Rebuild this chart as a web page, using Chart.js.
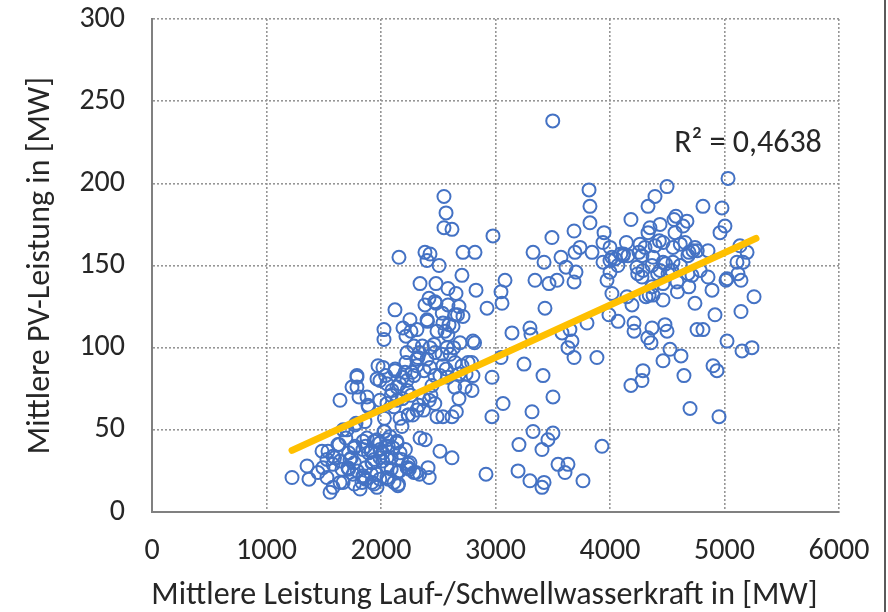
<!DOCTYPE html>
<html lang="de">
<head>
<meta charset="UTF-8">
<title>PV-Leistung vs. Wasserkraft</title>
<script src="https://cdn.jsdelivr.net/npm/chart.js@4.4.1/dist/chart.umd.min.js"></script>
<style>
 html,body{margin:0;padding:0;background:#fff;}
 #wrap{position:relative;width:888px;height:612px;}
 #rand{position:absolute;left:884px;top:0;width:2px;height:612px;background:#5a5a5a;}
</style>
</head>
<body>
<div id="wrap">
  <canvas id="chart" width="888" height="612"></canvas>
  <div id="rand"></div>
</div>
<script>
// Mittlere Leistung Lauf-/Schwellwasserkraft [MW] (x) und Mittlere PV-Leistung [MW] (y)
var wasserkraft = [
  3500,5031,4498,3817,2550,4393,3825,4332,4812,4978,
  2568,4183,3825,2550,2620,5004,4576,4559,4672,4638,
  4437,4349,3686,4961,2978,3493,3948,4568,4655,4463,
  3939,4393,4306,4000,3738,4262,4856,4742,4690,3843,
  3694,3328,2821,2716,2384,2428,2402,2157,4114,4157,
  4253,4332,4550,4725,4681,5197,5135,3572,4017,4279,
  4376,3424,2507,4550,4463,5109,5162,4367,3939,4000,
  3616,4236,4288,4437,4507,3703,4000,5118,4681,4716,
  4279,4856,5022,5013,5144,4585,4463,3686,3974,3537,
  3345,3467,3083,2707,2480,2341,2585,2655,2830,3048,
  4891,4017,4376,4314,4148,4463,4742,5258,3057,2926,
  3432,4192,2419,2384,2480,2585,2681,2646,2716,2122,
  5144,4917,3991,4070,4210,3799,4367,4480,4760,4812,
  4498,4330,4210,3301,3310,3144,3581,3650,3668,3633,
  4358,5022,5153,5240,4524,4620,3686,3886,4463,4900,
  4934,4288,4279,4183,4646,4699,4952,3048,3249,3415,
  2970,3502,3066,2969,3319,3328,3502,3458,3406,3205,
  3930,3546,3633,3607,3197,3301,3424,3406,3764,2917,
  2515,2620,2253,2192,2218,2314,2402,2489,2541,2559,
  2629,2026,2026,2428,2463,2690,2803,2576,2227,2218,
  2323,2402,2472,2533,2541,2646,2760,1974,2017,1790,
  2122,2210,2271,2376,2428,2681,2734,2795,2803,2489,
  2541,2620,2658,2446,2470,2515,2584,2644,2569,2683,
  2470,2436,2371,2332,2277,2238,2371,2421,2386,2341,
  2314,2166,2183,1991,2052,2096,2227,1991,2052,2140,
  2026,2188,2262,2089,2040,2163,2287,2312,1223,1354,
  1371,1450,1555,1528,1581,1642,1747,1790,1790,1808,
  1878,1886,1624,1537,1581,1659,1729,1773,1843,1913,
  1991,2052,2105,2166,2253,2227,2306,1712,1755,1843,
  1834,1921,1965,2052,2148,2052,1991,1921,1528,1493,
  1485,1642,1581,1773,1703,1860,1878,1965,2052,2140,
  2236,2140,2411,2421,2337,2287,1669,1782,1891,2030,
  2089,1940,2114,1866,1940,2015,1767,1718,1866,2213,
  2163,1965,2124,1594,1634,1718,1916,
  // dichter Bereich unten links
  1669,1742,1767,1842,1817,1925,1965,2015,2064,2089,
  2153,2178,2040,1990,1940,1842,1693,1643,1767,1891,
  2139,2079,1792,1866,2238,2248,1916,1990,2064,2030,
  // mittlerer Bereich
  2188,2228,2139,2114,2406,2470,2535,2594,2668,2604,
  2262,2312,2337,2361,2287,2584,2634,2708,2743,2817,
  2792,2238,
  // rechter Bereich
  4094,4045,4069,4416,4143,4614,4762,4366,4589,4342,
  4431,4539,4614,4688,4787,4485,4242,4118
];
var pvLeistung = [
  238,203,198,196,192,192,186,186,186,185,
  182,178,176,173,172,174,180,178,177,174,
  175,173,171,170,168,167,170,170,164,164,
  164,162,161,161,161,163,159,161,158,158,
  158,158,158,158,158,157,153,155,156,156,
  158,170,161,159,156,158,162,155,155,156,
  155,152,150,152,152,152,152,150,152,153,
  149,149,147,147,145,146,146,145,145,144,
  143,143,142,141,141,140,139,140,141,141,
  141,139,141,144,139,139,136,133,135,134,
  135,133,132,131,131,129,127,131,127,124,
  124,126,130,126,127,126,125,120,119,123,
  122,120,120,116,115,115,112,114,111,111,
  110,106,110,112,108,109,109,111,104,100,
  103,104,98,100,99,95,94,94,92,89,
  86,86,80,77,83,63,58,94,90,83,
  82,70,66,58,61,49,48,44,38,41,
  40,29,29,24,25,19,18,15,19,23,
  37,33,117,112,107,111,117,110,115,110,
  113,111,105,100,102,103,104,100,97,91,
  94,93,97,96,89,91,91,89,88,83,
  86,85,85,86,88,69,76,74,83,58,
  58,58,61,77,83,83,82,76,87,84,
  66,71,62,65,59,59,69,68,44,45,
  62,57,52,80,78,74,80,68,66,68,
  49,69,71,71,83,78,83,89,21,28,
  20,24,12,21,29,68,76,82,76,70,
  70,65,41,37,34,26,32,40,43,37,
  38,33,39,36,30,27,24,27,23,21,
  18,18,15,21,16,27,33,30,32,27,
  37,18,15,53,50,55,45,44,44,42,
  27,24,27,21,23,24,50,54,64,57,
  26,17,18,27,32,31,17,36,40,38,
  25,81,87,33,41,26,23,
  // dichter Bereich unten links
  18,33,39,22,14,30,23,36,40,33,
  17,32,40,42,43,38,45,31,30,36,
  43,46,25,20,29,26,37,20,20,49,
  // mittlerer Bereich
  82,74,76,64,116,128,121,114,120,96,
  110,93,97,101,101,108,100,89,84,103,
  91,59,
  // rechter Bereich
  157,154,150,145,164,163,159,137,134,132,
  165,147,150,137,147,151,145,157
];

// lineare Trendlinie
var trendX = [1223, 5275];
var trendY = [37.5, 166.5];
var r2Text = 'R\u00B2 = 0,4638';

var xTitel = 'Mittlere Leistung Lauf-/Schwellwasserkraft in [MW]';
var yTitel = 'Mittlere PV-Leistung in [MW]';

var schrift = 'Carlito, Lato, "Liberation Sans", sans-serif';
var textFarbe = '#262626';

var punkte = wasserkraft.map(function (x, i) { return {x: x, y: pvLeistung[i]}; });
var trend = trendX.map(function (x, i) { return {x: x, y: trendY[i]}; });

// R²-Text und Achsentitel selbst zeichnen
var texte = {
  id: 'texte',
  afterDatasetsDraw: function (chart) {
    var ctx = chart.ctx, sx = chart.scales.x, sy = chart.scales.y;
    ctx.save();
    ctx.fillStyle = textFarbe;
    ctx.textBaseline = 'middle';
    ctx.font = '32px ' + schrift;
    ctx.textAlign = 'right';
    ctx.fillText(r2Text, sx.getPixelForValue(5850), sy.getPixelForValue(224));

    ctx.font = '32px ' + schrift;
    ctx.textAlign = 'center';
    ctx.fillText(xTitel, (sx.left + sx.right) / 2 - 11, 596);

    ctx.translate(41, (sy.top + sy.bottom) / 2);
    ctx.rotate(-Math.PI / 2);
    ctx.fillText(yTitel, 0, 0);
    ctx.restore();
  }
};

function ohnePunkt(v) { return String(v); }

var ctx1 = document.getElementById('chart').getContext('2d');
var myChart = new Chart(ctx1, {
  type: 'scatter',
  data: {
    datasets: [{
      label: 'Trend',
      type: 'line',
      data: trend,
      borderColor: '#FFC000',
      borderWidth: 7,
      borderCapStyle: 'round',
      pointRadius: 0,
      fill: false,
      order: 0
    }, {
      label: 'PV-Leistung',
      data: punkte,
      pointStyle: 'circle',
      pointRadius: 6.5,
      pointBorderWidth: 2,
      borderColor: '#4472C4',
      backgroundColor: 'rgba(255,255,255,0)',
      order: 1
    }]
  },
  options: {
    responsive: false,
    animation: false,
    layout: {padding: {top: 19, right: 49, left: 0, bottom: 0}},
    plugins: {
      legend: {display: false},
      tooltip: {enabled: false}
    },
    scales: {
      x: {
        type: 'linear',
        min: 0,
        max: 6000,
        ticks: {stepSize: 1000, maxRotation: 0, padding: 21, color: textFarbe, font: {family: schrift, size: 30}, callback: ohnePunkt},
        grid: {color: '#969696', lineWidth: 1.6, drawTicks: false},
        border: {display: true, color: '#808080', width: 2, dash: [2, 2]},
        afterFit: function (s) { s.height = 100; s.paddingLeft = 0; s.paddingRight = 0; }
      },
      y: {
        min: 0,
        max: 300,
        ticks: {stepSize: 50, padding: 27, color: textFarbe, font: {family: schrift, size: 30}, callback: ohnePunkt},
        grid: {color: '#969696', lineWidth: 1.6, drawTicks: false},
        border: {display: true, color: '#808080', width: 2, dash: [2, 2]},
        afterFit: function (s) { s.width = 152; s.paddingTop = 0; s.paddingBottom = 0; }
      }
    }
  },
  plugins: [texte]
});
</script>
</body>
</html>
